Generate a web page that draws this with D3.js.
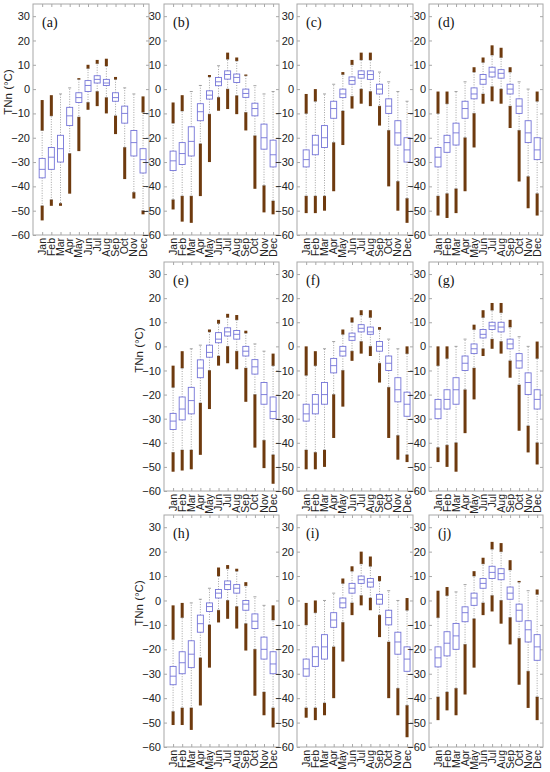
<!DOCTYPE html>
<html><head><meta charset="utf-8">
<script src="https://cdn.jsdelivr.net/npm/d3@7"></script>
<style>body{margin:0;background:#fff}svg{display:block}</style>
</head><body>
<script>
const months = ["Jan","Feb","Mar","Apr","May","Jun","Jul","Aug","Sep","Oct","Nov","Dec"];
const yTicks = [30,20,10,0,-10,-20,-30,-40,-50,-60];
const panelLabels = ["(a)","(b)","(c)","(d)","(e)","(f)","(g)","(h)","(i)","(j)"];
// each row: [lowest outlier, lower whisker, Q1, median, Q3, upper whisker, highest outlier]
const panelA = [[-54,-48,-36.5,-33,-28.5,-17,-4.5],[-48,-45.5,-33,-28,-24,-11,-2.5],[-48,-47,-30,-24.5,-19,-2,-2],[-43,-26.5,-15,-11,-7.5,0.5,0.5],[-25.5,-11.5,-5.5,-3.5,-1.5,4,4.5],[-8.5,-5.5,-1,1.5,3.5,8.5,10],[-7,-1,2.5,4,5.5,10.5,12],[-10,-3.5,1.5,2.5,4,9.5,12.5],[-18.5,-11,-5,-3.5,-1.5,4,5],[-37,-24,-14,-10,-7,0.5,0.5],[-45,-42.5,-27.5,-22,-17,-2,-2],[-51.5,-50,-34.5,-29,-24.5,-9.5,-3]];
const panelB = [[-49.5,-45.5,-33.5,-29.5,-25.5,-14,-5.5],[-54.5,-44,-31,-26.5,-22,-9,-2.5],[-55,-44,-27.5,-21.5,-15.5,-1,-1],[-44,-22.5,-13,-9.3,-6,1.5,1.5],[-30,-10.3,-4.1,-2.5,-0.7,5,5.8],[-8.9,-3.4,1.4,3,4.8,9.6,9.6],[-8.2,0,4.1,6,7.5,12.3,15],[-10.3,-2.7,2.7,4.8,6.2,11.6,13],[-17,-9.6,-3.4,-1.8,0,5.5,6],[-41,-19.2,-11,-8,-5.8,1.4,1.4],[-50.7,-39.7,-24.7,-20,-14.4,-2,-2],[-51.5,-46,-32,-27,-21,-1,-1]];
const panelC = [[-51,-44,-32,-29,-25,-10,-2],[-51,-44,-27,-23,-19,-5,0],[-50,-44,-24,-20,-15,-2,-2],[-42,-22,-12,-8,-5,2,2],[-23,-9,-3.5,-2,0,6,7],[-8,-3,2,3.5,5,10,12],[-6,0,4.5,6,7.5,12,15],[-7,-1,4,6,7.5,12,15],[-15,-7,-2,0,2,7,7],[-40,-17,-10,-7,-4,3,3],[-50,-38,-23,-18,-13,-1,-1],[-55,-45,-30,-25,-20,-5,-5]];
const panelD = [[-52,-44,-32,-28,-24,-10,-1],[-53,-43,-26,-22,-19,-6,-1],[-51,-41,-23,-18,-14,-1,-1],[-42,-20,-12,-8,-5,3,3],[-24,-10,-4,-2,0.5,7,9],[-6,-2,2,4,6,11,13],[-5,1,5,7,9,14,18],[-6,0,4.5,6.5,8,13,17],[-16,-7,-2,0,2,7,9],[-38,-17,-10,-7,-4,3,3],[-49,-36,-22,-18,-13,0,0],[-52,-43,-29,-25,-20,-5,-1]];
const panelE = [[-52,-44,-34.5,-31,-27.8,-17,-8],[-51.5,-43,-30.5,-26,-21,-9,-2],[-51,-43,-28,-22.5,-17,-1,-1],[-45,-23.5,-13,-9,-5.6,0.5,0.5],[-26,-10,-4.5,-2.5,0.5,6,7],[-8,-4,1.5,3,5.7,9.5,11],[-7,0,4.3,6,7.7,12,13.5],[-9.5,-2,3,5,6.6,11,13],[-23,-9,-4,-2,0,5.5,6.5],[-42,-20,-11.5,-8.5,-5.5,1,1],[-50.5,-39,-24,-20,-15,-2,-2],[-57,-45,-30,-27,-21,-8,-3]];
const panelF = [[-51,-43,-31,-28,-24,-12,0],[-51,-44,-28,-24,-20,-8,-2],[-50,-43,-24,-20,-15,-1,-1],[-38,-20,-11,-8,-5,2,2],[-25,-10,-4,-2,0,5,7],[-6,-2,2.5,4,5.5,10,12],[-3,2,6,7.5,9,13,15],[-4,0,5,6,8,12,15],[-15,-7,-2,0,2,7,8],[-38,-17,-10,-7,-4,3,3],[-47,-37,-23,-18,-13,-1,-1],[-48,-45,-29,-24,-19,-3,0]];
const panelG = [[-48,-42,-30,-26,-22,-8,0],[-50,-41,-26,-22,-18,-5,0],[-52,-40,-24,-18,-13,0,0],[-36,-18,-10,-7,-4,3,3],[-22,-9,-3,-1,1,7,9],[-4,-1,3.5,5,7,12,15],[-1,3,7,8.5,10,15,18],[-3,2,6,8,10,14,18],[-13,-6,-1,1,3,8,11],[-35,-16,-9,-6,-3,4,4],[-44,-33,-20,-15,-11,0,0],[-49,-40,-26,-22,-18,-5,2]];
const panelH = [[-51,-45.5,-34.5,-31,-27,-16,-2],[-51,-44,-30,-25.5,-21,-7,-1],[-53,-44,-27.5,-22,-16.5,-1,-1],[-43,-23.5,-13,-9.5,-6,0.5,0.5],[-27.5,-10,-4.5,-2.5,-1,5,5],[-9,-4,1,3,4.5,10,13.5],[-7.5,0,4.5,6.5,8,13,14.5],[-11.5,-2.5,3,5,6.5,12,13],[-20.5,-9.5,-4,-1.5,0,6,7.5],[-39,-20,-11.5,-8.5,-5.5,1.5,1.5],[-47,-37.5,-24,-20,-15,-2,-2],[-52,-44,-30,-26,-21,-8,-2]];
const panelI = [[-48,-44,-31,-28,-24,-10,-1],[-49,-44,-27,-23,-19,-5,0],[-47,-42,-24,-19,-14,0,0],[-40,-19,-11,-8,-5,3,3],[-25,-9,-3,-1,1,7,9],[-6,-1,3,5,7,12,14],[-2,2,7,8.5,10,15,20],[-4,1,5.5,7.5,9,14,18],[-15,-6,-1.5,0.5,2.5,8,10],[-40,-17,-10,-7,-4,4,4],[-47,-36,-22,-17,-13,0,0],[-56,-43,-29,-24,-19,-4,1]];
const panelJ = [[-49,-39.5,-27.2,-23.5,-19,-7,4],[-45,-37.5,-22.7,-17.5,-12.8,2,5.5],[-47,-36,-20,-14.5,-9.4,3.5,3.5],[-38.5,-18,-8.7,-5,-2.6,6.5,6.5],[-27.5,-7.5,-2,1,3,10,12],[-6,-1,5,7,9,15,17.5],[-4.5,2,9,11.5,14,21,24],[-9.5,0,8.5,11,13,20,23.5],[-18,-7,0.5,3,5.5,12.5,16.5],[-34.5,-15.5,-8.5,-4,-1.5,7.5,8],[-44,-29,-17,-12,-8.3,4,4],[-49,-39.5,-24.5,-19,-14,2.5,4.5]];

const panels = [panelA,panelB,panelC,panelD,panelE,panelF,panelG,panelH,panelI,panelJ];
const gridPos = [[0,0],[1,0],[2,0],[3,0],[1,1],[2,1],[3,1],[1,2],[2,2],[3,2]];
const colX = [[33,149],[164,279],[297,413],[429,543]];
const rowY = [[4,235],[262,491],[515,747]];
const ylabelRows = [0,4,7];

const svg = d3.select("body").append("svg").attr("width",550).attr("height",772)
  .style("font-family","'Liberation Sans', Arial, sans-serif");

const boxColor = "#7474d8", whiskerColor = "#8a8a8a", outColor = "#6e3a0e", frameColor = "#a8a8a8";

panels.forEach((data,pi)=>{
  const [c,r] = gridPos[pi];
  const [x0,x1] = colX[c], [y0,y1] = rowY[r];
  const x = d3.scaleLinear().domain([0,12.65]).range([x0,x1]);
  const y = d3.scaleLinear().domain([-60,35]).range([y1,y0]);
  const g = svg.append("g");

  // frame
  g.append("rect").attr("x",x0).attr("y",y0).attr("width",x1-x0).attr("height",y1-y0)
    .attr("fill","none").attr("stroke",frameColor).attr("stroke-width",1);

  // axes
  const ax = g.append("g").attr("transform",`translate(${x0},0)`)
    .call(d3.axisLeft(y).tickValues(yTicks).tickSize(-3).tickPadding(3));
  ax.select(".domain").remove();
  ax.selectAll("line").attr("stroke",frameColor);
  ax.selectAll("text").attr("fill","#222").style("font-size","11px");
  const axr = g.append("g").attr("transform",`translate(${x1},0)`)
    .call(d3.axisRight(y).tickValues(yTicks).tickSize(-3).tickFormat(""));
  axr.select(".domain").remove(); axr.selectAll("line").attr("stroke",frameColor);
  const mi = d3.range(1,13);
  const axb = g.append("g").attr("transform",`translate(0,${y1})`)
    .call(d3.axisBottom(x).tickValues(mi).tickSize(-3).tickFormat(""));
  axb.select(".domain").remove(); axb.selectAll("line").attr("stroke",frameColor);
  const axt = g.append("g").attr("transform",`translate(0,${y0})`)
    .call(d3.axisTop(x).tickValues(mi).tickSize(-3).tickFormat(""));
  axt.select(".domain").remove(); axt.selectAll("line").attr("stroke",frameColor);

  // month labels
  g.selectAll("text.month").data(months).join("text").attr("class","month")
    .attr("transform",(d,i)=>`translate(${x(i+1)+3.5},${y1+3}) rotate(-90)`)
    .attr("text-anchor","end").attr("fill","#222").style("font-size","10.5px").text(d=>d);

  // panel label
  g.append("text").attr("x",x0+9).attr("y",y0+23)
    .style("font-family","'Liberation Serif','Times New Roman',serif").style("font-size","14px")
    .attr("fill","#111").text(panelLabels[pi]);

  if (ylabelRows.includes(pi)) {
    g.append("text").attr("transform",`translate(${x0-21},${y0+88}) rotate(-90)`)
      .attr("text-anchor","middle").attr("fill","#222").style("font-size","11.5px").text("TNn (°C)");
  }

  data.forEach((d,i)=>{
    const cx = x(i+1);
    const [olo,wlo,q1,med,q3,whi,ohi] = d;
    // whiskers
    g.append("line").attr("x1",cx).attr("x2",cx).attr("y1",y(q3)).attr("y2",y(whi))
      .attr("stroke",whiskerColor).attr("stroke-width",0.8).attr("stroke-dasharray","1,1.5");
    g.append("line").attr("x1",cx).attr("x2",cx).attr("y1",y(q1)).attr("y2",y(wlo))
      .attr("stroke",whiskerColor).attr("stroke-width",0.8).attr("stroke-dasharray","1,1.5");
    [whi,wlo].forEach(v=>g.append("line").attr("x1",cx-1.5).attr("x2",cx+1.5)
      .attr("y1",y(v)).attr("y2",y(v)).attr("stroke",whiskerColor).attr("stroke-width",0.8));
    // outliers
    if (ohi>whi) g.append("rect").attr("x",cx-1.5).attr("width",3)
      .attr("y",y(ohi)).attr("height",y(whi)-y(ohi)).attr("fill",outColor);
    if (olo<wlo) g.append("rect").attr("x",cx-1.5).attr("width",3)
      .attr("y",y(wlo)).attr("height",y(olo)-y(wlo)).attr("fill",outColor);
    // box
    g.append("rect").attr("x",cx-3).attr("width",6).attr("y",y(q3)).attr("height",y(q1)-y(q3))
      .attr("fill","none").attr("stroke",boxColor).attr("stroke-width",0.9);
    g.append("line").attr("x1",cx-3).attr("x2",cx+3).attr("y1",y(med)).attr("y2",y(med))
      .attr("stroke",boxColor).attr("stroke-width",0.9);
  });
});
</script>
</body></html>
